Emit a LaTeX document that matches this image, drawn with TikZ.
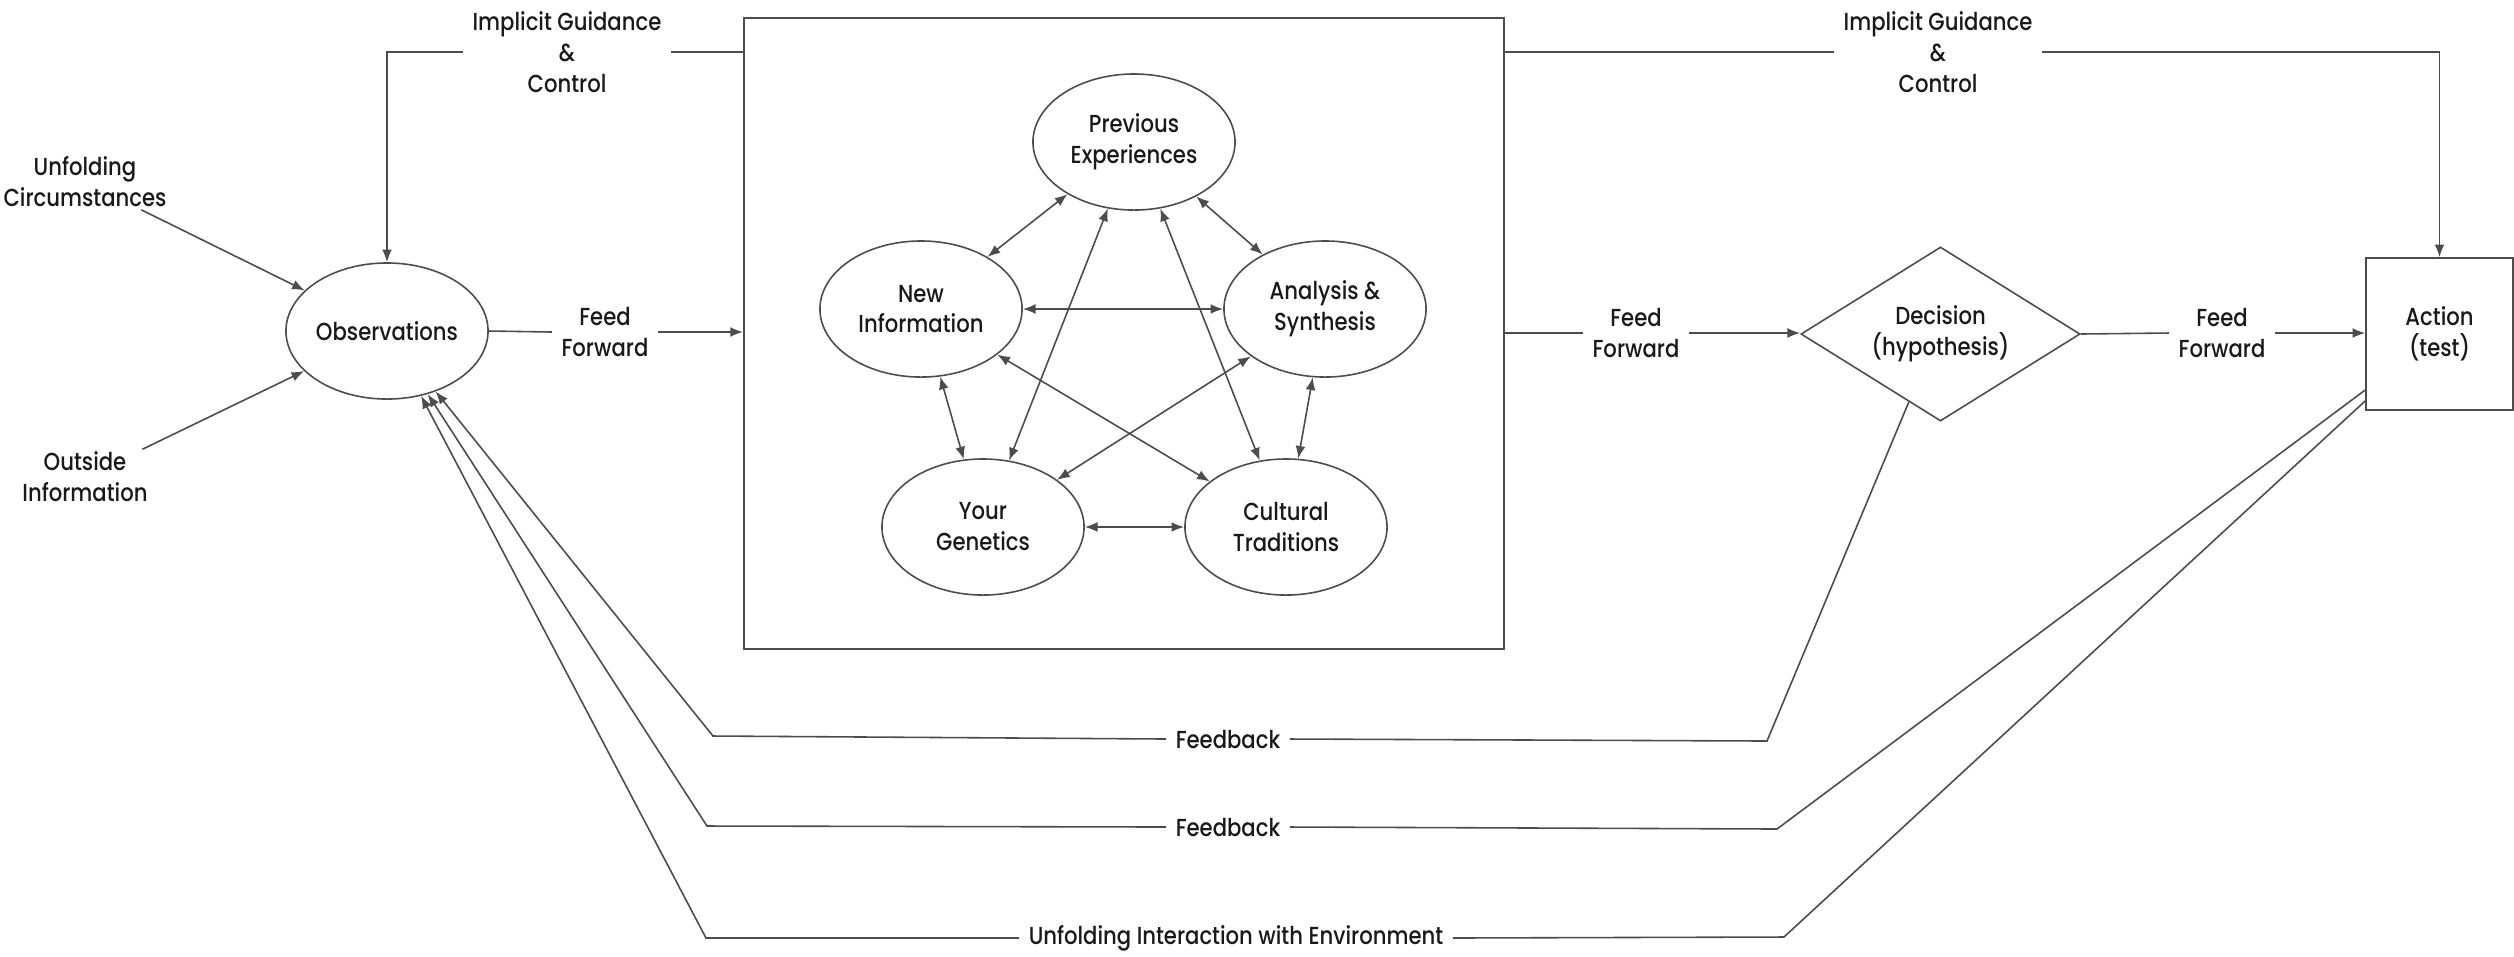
\documentclass[tikz,border=0pt]{standalone}
\usepackage{fontspec}
\setmainfont{Poppins}[UprightFont=* Medium, FakeStretch=0.86]
\usetikzlibrary{shapes.geometric,arrows.meta}

\begin{document}
\begin{tikzpicture}[x=0.01cm,y=-0.01cm,
  every node/.style={font=\fontsize{7pt}{8.8pt}\selectfont, text=black!90},
  conn/.style={draw=black!70, line width=0.45pt},
  arr/.style={conn, -{Latex[length=3.6pt,width=2.8pt]}},
  darr/.style={conn, {Latex[length=3.6pt,width=2.8pt]}-{Latex[length=3.6pt,width=2.8pt]}},
  bubble/.style={ellipse, draw=black!70, line width=0.45pt, minimum width=2.02cm,
    minimum height=1.36cm, inner sep=0pt, align=center},
  lbl/.style={align=center, inner xsep=0.09cm, inner ysep=0.02cm}
]
\useasboundingbox[fill=white] (0,0) rectangle (2514,956);

% main stages
\node[bubble] (obs) at (387,331) {Observations};
\node[draw=black!70, line width=0.45pt, minimum width=7.6cm, minimum height=6.31cm,
  inner sep=0pt] (box) at (1124,333.5) {};
\node[diamond, shape aspect=1.6, draw=black!70, line width=0.45pt, minimum width=2.79cm,
  minimum height=1.74cm, inner sep=0pt, align=center] (dec) at (1940.5,334)
  {Decision\\(hypothesis)};
\node[draw=black!70, line width=0.45pt, minimum width=1.47cm, minimum height=1.52cm,
  inner sep=0pt, align=center] (act) at (2439.5,334) {Action\\(test)};

% orientation bubbles
\node[bubble] (pe) at (1134,142) {Previous\\Experiences};
\node[bubble] (ni) at (921,309) {New\\Information};
\node[bubble] (as) at (1325,309) {Analysis \&\\Synthesis};
\node[bubble] (yg) at (983,527) {Your\\Genetics};
\node[bubble] (ct) at (1286,527) {Cultural\\Traditions};

\draw[darr] (pe) -- (ni);
\draw[darr] (pe) -- (as);
\draw[darr] (pe) -- (yg);
\draw[darr] (pe) -- (ct);
\draw[darr] (ni) -- (as);
\draw[darr] (ni) -- (yg);
\draw[darr] (ni) -- (ct);
\draw[darr] (as) -- (yg);
\draw[darr] (as) -- (ct);
\draw[darr] (yg) -- (ct);

% outside inputs
\node[lbl] (uc) at (85,182) {Unfolding\\Circumstances};
\node[lbl] (oi) at (85,477) {Outside\\Information};
\draw[arr] (uc) -- (obs);
\draw[arr] (oi) -- (obs);

% feed forward chain
\node[lbl] (ff1) at (605,332) {Feed\\Forward};
\node[lbl] (ff2) at (1636,333) {Feed\\Forward};
\node[lbl] (ff3) at (2222,333) {Feed\\Forward};
\draw[conn] (obs.east) -- (ff1.west);
\draw[arr] (ff1.east) -- (ff1.east -| box.west);
\draw[conn] (ff2.west -| box.east) -- (ff2.west);
\draw[arr] (ff2.east) -- (ff2.east -| dec.west);
\draw[conn] (dec.east) -- (ff3.west);
\draw[arr] (ff3.east) -- (ff3.east -| act.west);

% implicit guidance and control
\node[lbl] (ig1) at (567,52) {Implicit Guidance\\\&\\Control};
\node[lbl] (ig2) at (1938,52) {Implicit Guidance\\\&\\Control};
\draw[arr] (ig1.west) -| (obs.north);
\draw[conn] (ig1.east) -- (ig1.east -| box.west);
\draw[conn] (ig2.west -| box.east) -- (ig2.west);
\draw[arr] (ig2.east) -| (act.north);

% feedback loops
\node[lbl] (fb1) at (1228,739) {Feedback};
\node[lbl] (fb2) at (1228,827) {Feedback};
\node[lbl] (uie) at (1236,938) {Unfolding Interaction with Environment};
\coordinate (c1l) at (713,736);
\coordinate (c1r) at (1767,741);
\coordinate (c2l) at (707,826);
\coordinate (c2r) at (1777,829);
\coordinate (c3l) at (706,938);
\coordinate (c3r) at (1784,937);
\draw[conn] (dec.245.5) -- (c1r) -- (fb1.east);
\draw[arr] (fb1.west) -- (c1l) -- (obs);
\draw[conn] (act.217) -- (c2r) -- (fb2.east);
\draw[arr] (fb2.west) -- (c2l) -- (obs);
\draw[conn] (act.222) -- (c3r) -- (uie.east);
\draw[arr] (uie.west) -- (c3l) -- (obs);
\end{tikzpicture}
\end{document}
